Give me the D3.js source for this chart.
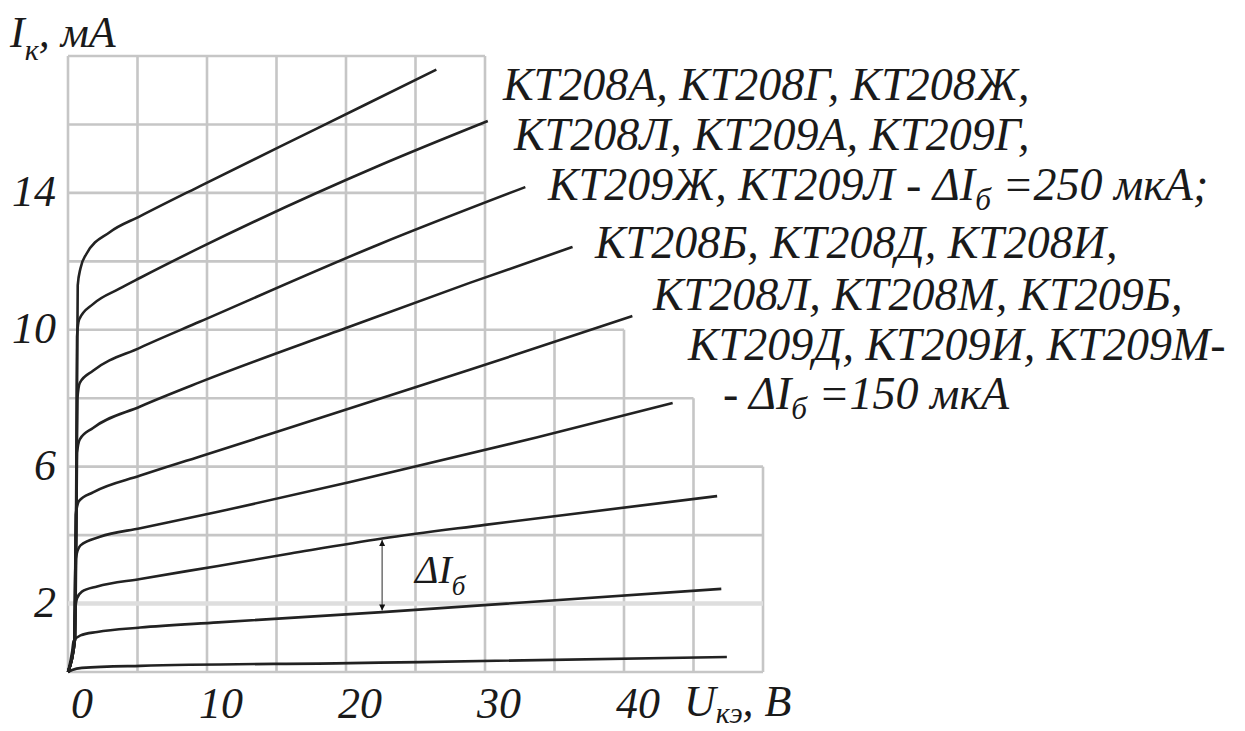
<!DOCTYPE html>
<html><head><meta charset="utf-8">
<script src="https://cdn.jsdelivr.net/npm/d3@7/dist/d3.min.js"></script>
<style>
html,body{margin:0;padding:0;background:#fff;}
svg{display:block;}
text{font-family:"Liberation Serif",serif;font-style:italic;fill:#1a1a1a;}
</style></head>
<body>
<svg id="chart" width="1245" height="731"></svg>
<script>
// ---- data ----
const xTicks = [0, 10, 20, 30, 40];
const yTicks = [2, 6, 10, 14];
const gridV = [0, 5, 10, 15, 20, 25, 30, 35, 40, 45, 50];
const gridVTop = [18, 18, 18, 18, 18, 18, 18, 10, 10, 8, 6];
const gridI = [0, 2, 4, 6, 8, 10, 12, 14, 16, 18];
const gridIRight = [50, 50, 50, 50, 45, 40, 30, 30, 30, 30];

// collector curves [U_ke (V), I_k (mA)], bottom to top
const curve1 = [[0,0],[0.3,0.06],[1,0.12],[5.2,0.18],[20.3,0.26],[25.3,0.29],[47.4,0.44]];
const curve2 = [[0,0],[0.3,0.6],[0.4,0.9],[0.9,1.07],[2.1,1.17],[5.2,1.3],[10.8,1.45],[22.6,1.75],[47,2.43]];
const curve3 = [[0,0],[0.45,0.9],[0.52,1.8],[0.65,2.15],[1.0,2.35],[2.1,2.5],[5.2,2.72],[10.8,3.1],[16,3.46],[22.6,3.9],[30,4.3],[46.7,5.14]];
const curve4 = [[0,0],[0.45,0.9],[0.5,2.5],[0.55,3.3],[0.9,3.7],[2.3,3.95],[5.2,4.2],[10.8,4.68],[20.3,5.55],[33.7,6.85],[43.5,7.86]];
const curve5 = [[0,0],[0.45,0.9],[0.52,3],[0.56,4.6],[0.8,5.0],[1.8,5.25],[5.2,5.74],[9.5,6.3],[28.9,8.83],[40.6,10.4]];
const curve6 = [[0,0],[0.5,0.95],[0.6,4],[0.65,6.4],[0.85,6.8],[1.8,7.13],[5.2,7.76],[9.5,8.47],[20,10.05],[28.9,11.37],[36.3,12.42]];
const curve7 = [[0,0],[0.5,0.95],[0.6,5],[0.68,8.0],[0.85,8.45],[1.8,8.8],[5.2,9.48],[9.5,10.24],[22.4,12.5],[32.9,14.17]];
const curve8 = [[0,0],[0.5,0.95],[0.6,6],[0.65,9.8],[0.8,10.3],[1.8,10.75],[3.7,11.2],[5.2,11.52],[9.5,12.4],[22.4,14.8],[30.2,16.1]];
const curve9 = [[0,0],[0.5,0.95],[0.62,6],[0.7,11.3],[0.9,11.8],[1.3,12.2],[3.0,12.85],[5.2,13.32],[9.5,14.2],[18,15.9],[26.5,17.6]];
const curves = [curve1, curve2, curve3, curve4, curve5, curve6, curve7, curve8, curve9];

// delta-I annotation between curve2 and curve3 at this voltage
const deltaU = 22.6;

// text
const yTitle = [["I",0],["к",1],[", мА",0]];
const xTitle = [["U",0],["кэ",1],[", В",0]];
const noteLines = [
  [["КТ208А, КТ208Г, КТ208Ж,",0]],
  [["КТ208Л, КТ209А, КТ209Г,",0]],
  [["КТ209Ж, КТ209Л - ΔI",0],["б",1],[" =250 мкА;",0]],
  [["КТ208Б, КТ208Д, КТ208И,",0]],
  [["КТ208Л, КТ208М, КТ209Б,",0]],
  [["КТ209Д, КТ209И, КТ209М-",0]],
  [["- ΔI",0],["б",1],[" =150 мкА",0]]
];
const noteX = [503, 514, 548, 595, 653, 688, 723];
const noteY = [100, 150, 200, 258, 310, 360, 409];
const deltaLabel = [["ΔI",0],["б",1]];

// ---- drawing ----
const svg = d3.select("#chart");
const x = d3.scaleLinear().domain([0, 50]).range([68, 763]);
const y = d3.scaleLinear().domain([0, 18]).range([672, 56]);

const grid = svg.append("g");
gridV.forEach((v, i) => {
  grid.append("line").attr("x1", x(v)).attr("x2", x(v)).attr("y1", y(0)).attr("y2", y(gridVTop[i]))
    .attr("stroke", "#c6c6c6").attr("stroke-width", 2.6);
});
gridI.forEach((c, i) => {
  grid.append("line").attr("x1", x(0)).attr("x2", x(gridIRight[i])).attr("y1", y(c)).attr("y2", y(c))
    .attr("stroke", c === 2 ? "#dedede" : "#c6c6c6").attr("stroke-width", c === 2 ? 4.5 : 2.6);
});

const line = d3.line().x(d => x(d[0])).y(d => y(d[1])).curve(d3.curveMonotoneX);
svg.append("g").selectAll("path").data(curves).join("path")
  .attr("d", line).attr("fill", "none").attr("stroke", "#222").attr("stroke-width", 2.6)
  .attr("stroke-linejoin", "round").attr("stroke-linecap", "butt");

// tick labels
svg.append("g").selectAll("text").data(xTicks).join("text")
  .attr("x", d => x(d) + 14).attr("y", 718).attr("text-anchor", "middle")
  .attr("font-size", 44).text(d => d);
svg.append("g").selectAll("text").data(yTicks).join("text")
  .attr("x", 56).attr("y", d => y(d) + 13).attr("text-anchor", "end")
  .attr("font-size", 44).text(d => d);

function richText(parent, segs, x0, y0, fs, subShift) {
  const sh = subShift === undefined ? 0.3 : subShift;
  const t = parent.append("text").attr("x", x0).attr("y", y0).attr("font-size", fs);
  let shifted = false;
  segs.forEach(([s, sub]) => {
    const ts = t.append("tspan").text(s);
    if (sub) { ts.attr("font-size", fs * 0.68).attr("dy", fs * sh); shifted = true; }
    else if (shifted) { ts.attr("dy", -fs * sh); shifted = false; }
  });
  return t;
}
richText(svg, yTitle, 10, 47, 44);
richText(svg, xTitle, 684, 716, 44, 0.15);
noteLines.forEach((segs, i) => richText(svg, segs, noteX[i], noteY[i], 46, 0.22));

// delta I arrow
function interp(c, u) {
  for (let i = 1; i < c.length; i++) {
    if (c[i][0] >= u) {
      const [u0, i0] = c[i - 1], [u1, i1] = c[i];
      return i0 + (i1 - i0) * (u - u0) / (u1 - u0);
    }
  }
  return c[c.length - 1][1];
}
const defs = svg.append("defs");
defs.append("marker").attr("id", "ah").attr("viewBox", "0 0 10 10").attr("refX", 10).attr("refY", 5)
  .attr("markerWidth", 9).attr("markerHeight", 6).attr("markerUnits", "userSpaceOnUse")
  .attr("orient", "auto-start-reverse")
  .append("path").attr("d", "M0,0 L10,5 L0,10 Z").attr("fill", "#111");
const ax = x(deltaU);
const yTop = y(interp(curve3, deltaU)), yBot = y(interp(curve2, deltaU));
svg.append("line").attr("x1", ax).attr("x2", ax).attr("y1", yTop + 1.5).attr("y2", yBot - 1.5)
  .attr("stroke", "#666").attr("stroke-width", 1.4)
  .attr("marker-start", "url(#ah)").attr("marker-end", "url(#ah)");
richText(svg, deltaLabel, 415, 583, 40);
</script>
</body></html>
